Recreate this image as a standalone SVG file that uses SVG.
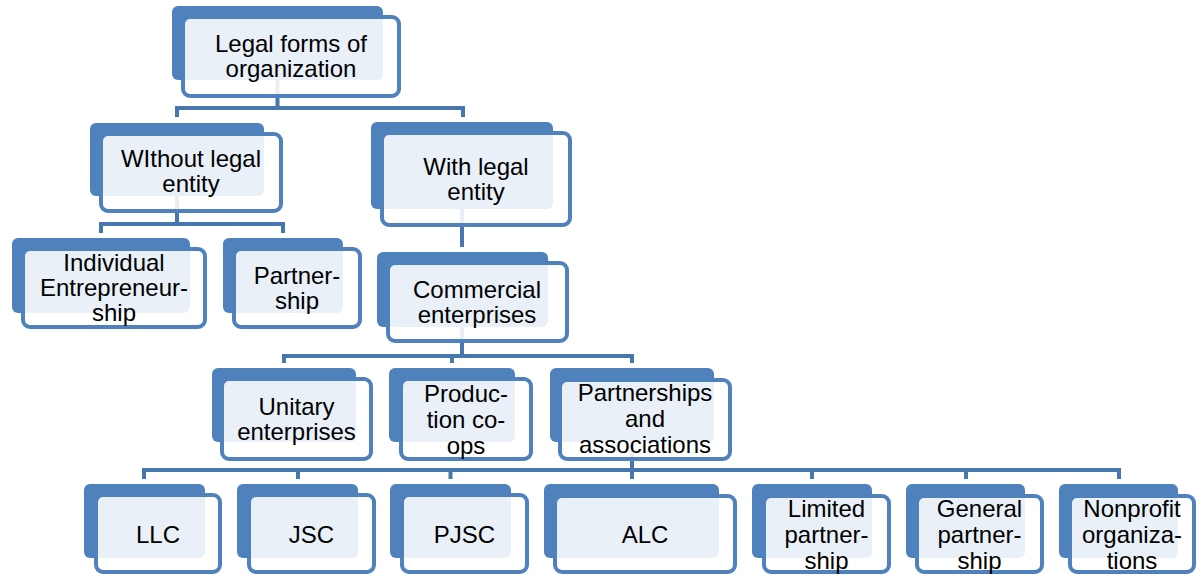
<svg xmlns="http://www.w3.org/2000/svg" width="1201" height="576" viewBox="0 0 1201 576">
<style>
.back{fill:#4F81BD}
.front{fill:#FFFFFF;fill-opacity:0.88;stroke:#4F81BD;stroke-width:4}
.conn{fill:none;stroke:#4876AE;stroke-width:4}
.lbl{font-family:"Liberation Sans",Arial,sans-serif;font-size:24px;fill:#000;text-anchor:middle}
</style>
<rect width="1201" height="576" fill="#FFFFFF"/>
<g id="connectors">
<path class="conn" d="M277.5 60 V108"/>
<path class="conn" d="M177 117 V108 H463 V117"/>
<path class="conn" d="M177 180 V224"/>
<path class="conn" d="M101 233 V224 H283 V233"/>
<path class="conn" d="M462 180 V247"/>
<path class="conn" d="M462 300 V356"/>
<path class="conn" d="M284 363 V356 H632 V363"/>
<path class="conn" d="M452 356 V363"/>
<path class="conn" d="M632 420 V470"/>
<path class="conn" d="M144 479 V470 H1119 V479"/>
<path class="conn" d="M298 470 V479 M450.5 470 V479 M632 470 V479 M812 470 V479 M966 470 V479"/>
</g>
<g id="n-legal">
<rect class="back" x="172" y="6" width="211" height="74" rx="6"/>
<rect class="front" x="183" y="17" width="216" height="79" rx="7"/>
<text class="lbl" x="291" y="52">Legal forms of</text>
<text class="lbl" x="291" y="77">organization</text>
</g>
<g id="n-without">
<rect class="back" x="90" y="123" width="174" height="73" rx="6"/>
<rect class="front" x="101" y="134" width="180" height="77" rx="7"/>
<text class="lbl" x="191" y="167">WIthout legal</text>
<text class="lbl" x="191" y="192">entity</text>
</g>
<g id="n-with">
<rect class="back" x="371" y="122" width="182" height="87" rx="6"/>
<rect class="front" x="382" y="133" width="188" height="92" rx="7"/>
<text class="lbl" x="476" y="174.5">With legal</text>
<text class="lbl" x="476" y="199.5">entity</text>
</g>
<g id="n-individual">
<rect class="back" x="12" y="238" width="178" height="75" rx="6"/>
<rect class="front" x="23" y="249" width="182" height="78" rx="7"/>
<text class="lbl" x="114" y="271">Individual</text>
<text class="lbl" x="114" y="296">Entrepreneur-</text>
<text class="lbl" x="114" y="321">ship</text>
</g>
<g id="n-partnership">
<rect class="back" x="223" y="238" width="120" height="75" rx="6"/>
<rect class="front" x="234" y="249" width="126" height="78" rx="7"/>
<text class="lbl" x="297" y="284">Partner-</text>
<text class="lbl" x="297" y="309">ship</text>
</g>
<g id="n-commercial">
<rect class="back" x="377" y="252" width="171" height="75" rx="6"/>
<rect class="front" x="388" y="263" width="179" height="78" rx="7"/>
<text class="lbl" x="477" y="297.5">Commercial</text>
<text class="lbl" x="477" y="322.5">enterprises</text>
</g>
<g id="n-unitary">
<rect class="back" x="212" y="368" width="144" height="74" rx="6"/>
<rect class="front" x="222" y="379" width="149" height="80" rx="7"/>
<text class="lbl" x="296.5" y="414.5">Unitary</text>
<text class="lbl" x="296.5" y="439.5">enterprises</text>
</g>
<g id="n-production">
<rect class="back" x="389" y="368" width="126" height="74" rx="6"/>
<rect class="front" x="401" y="379" width="130" height="80" rx="7"/>
<text class="lbl" x="466" y="402">Produc-</text>
<text class="lbl" x="466" y="428">tion co-</text>
<text class="lbl" x="466" y="454">ops</text>
</g>
<g id="n-partnerships">
<rect class="back" x="550" y="368" width="164" height="74" rx="6"/>
<rect class="front" x="560" y="380" width="170" height="79" rx="7"/>
<text class="lbl" x="645" y="401">Partnerships</text>
<text class="lbl" x="645" y="427">and</text>
<text class="lbl" x="645" y="453">associations</text>
</g>
<g id="n-llc">
<rect class="back" x="84" y="484" width="121" height="74" rx="6"/>
<rect class="front" x="96" y="495" width="124" height="77" rx="7"/>
<text class="lbl" x="158" y="543">LLC</text>
</g>
<g id="n-jsc">
<rect class="back" x="237" y="484" width="121" height="74" rx="6"/>
<rect class="front" x="249" y="495" width="125" height="77" rx="7"/>
<text class="lbl" x="311.5" y="543">JSC</text>
</g>
<g id="n-pjsc">
<rect class="back" x="390" y="484" width="121" height="74" rx="6"/>
<rect class="front" x="402" y="495" width="125" height="77" rx="7"/>
<text class="lbl" x="464.5" y="543">PJSC</text>
</g>
<g id="n-alc">
<rect class="back" x="544" y="484" width="175" height="74" rx="6"/>
<rect class="front" x="555" y="496" width="180" height="76" rx="7"/>
<text class="lbl" x="645" y="543">ALC</text>
</g>
<g id="n-limited">
<rect class="back" x="752" y="484" width="120" height="74" rx="6"/>
<rect class="front" x="764" y="496" width="125" height="76" rx="7"/>
<text class="lbl" x="826.5" y="517">Limited</text>
<text class="lbl" x="826.5" y="543">partner-</text>
<text class="lbl" x="826.5" y="569">ship</text>
</g>
<g id="n-general">
<rect class="back" x="906" y="484" width="119" height="74" rx="6"/>
<rect class="front" x="917" y="496" width="125" height="76" rx="7"/>
<text class="lbl" x="979.5" y="517">General</text>
<text class="lbl" x="979.5" y="543">partner-</text>
<text class="lbl" x="979.5" y="569">ship</text>
</g>
<g id="n-nonprofit">
<rect class="back" x="1059" y="484" width="119" height="74" rx="6"/>
<rect class="front" x="1070" y="496" width="124" height="76" rx="7"/>
<text class="lbl" x="1132" y="517">Nonprofit</text>
<text class="lbl" x="1132" y="543">organiza-</text>
<text class="lbl" x="1132" y="569">tions</text>
</g>
</svg>
